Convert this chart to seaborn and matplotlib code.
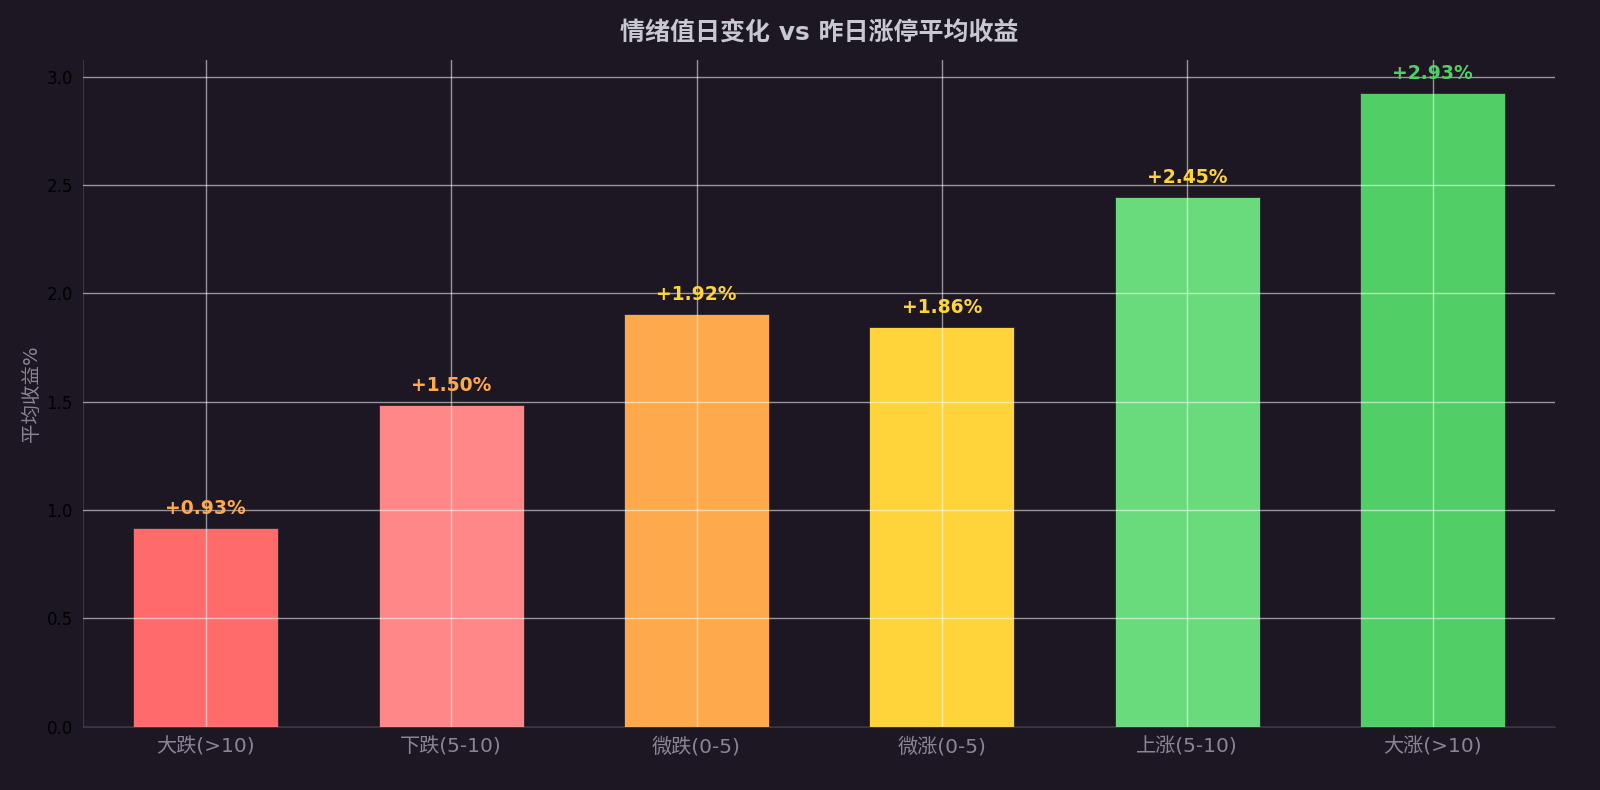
import pandas as pd
import matplotlib.pyplot as plt
import seaborn as sns

categories = ["大跌(>10)", "下跌(5-10)", "微跌(0-5)", "微涨(0-5)", "上涨(5-10)", "大涨(>10)"]
avg_return = [0.918, 1.487, 1.905, 1.845, 2.446, 2.925]
label_text = ["+0.93%", "+1.50%", "+1.92%", "+1.86%", "+2.45%", "+2.93%"]
bar_colors = ["#ff6b6b", "#ff8787", "#ffa94d", "#ffd43b", "#69db7c", "#51cf66"]
label_colors = ["#ffa94d", "#ffa94d", "#ffd43b", "#ffd43b", "#ffd43b", "#51cf66"]

bg = "#1c1722"
df = pd.DataFrame({"cat": categories, "ret": avg_return})

sns.set_style("dark")
plt.rcParams["font.family"] = ["DejaVu Sans", "Noto Sans CJK SC"]
plt.rcParams["axes.unicode_minus"] = False

fig, ax = plt.subplots(figsize=(16, 7.9), dpi=100)
fig.patch.set_facecolor(bg)
ax.set_facecolor(bg)

sns.barplot(data=df, x="cat", y="ret", hue="cat", palette=bar_colors, legend=False,
            width=0.59, saturation=1, edgecolor="#2a2430", linewidth=0.6, ax=ax)

for i, (v, t) in enumerate(zip(avg_return, label_text)):
    ax.text(i, v + 0.045, t, ha="center", va="bottom", fontsize=13.5,
            fontweight="bold", color=label_colors[i])

ax.set_ylim(0, max(avg_return) * 1.052)
ax.set_axisbelow(False)
ax.grid(True, color="white", alpha=0.55, linewidth=1)
ax.set_title("情绪值日变化 vs 昨日涨停平均收益", fontsize=18, fontweight="bold",
             color="#c8c8d0", pad=14)
ax.set_xlabel("")
ax.set_ylabel("平均收益%", fontsize=14, color="#8a8596")
ax.tick_params(axis="x", colors="black", labelcolor="#8a8596", labelsize=14.5, length=4)
ax.tick_params(axis="y", colors="black", labelcolor="black", labelsize=12, length=4)
for s in ["top", "right"]:
    ax.spines[s].set_visible(False)
for s in ["left", "bottom"]:
    ax.spines[s].set_visible(True)
    ax.spines[s].set_color("#3a3446")

plt.subplots_adjust(left=0.052, right=0.972, top=0.924, bottom=0.08)
plt.savefig("out.png", facecolor=bg)
